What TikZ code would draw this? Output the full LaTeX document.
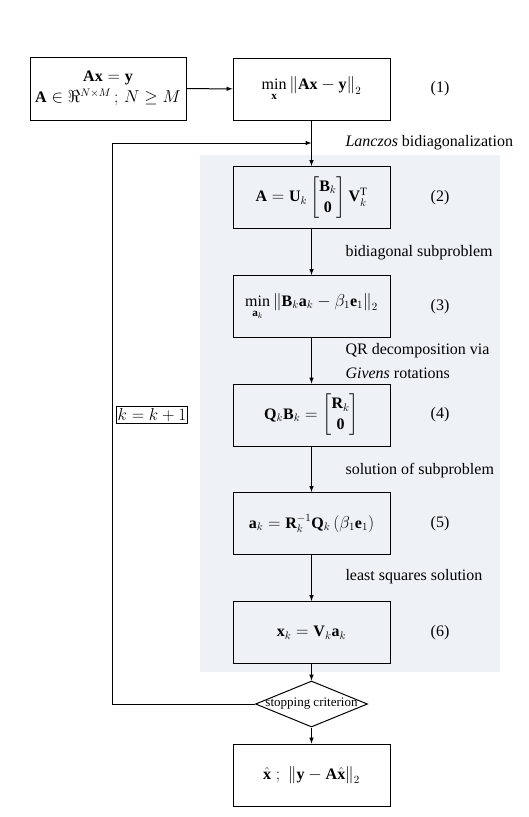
\documentclass[tikz,border=0pt]{standalone}
\usepackage{amsmath}
\usepackage{fontspec}
\setmainfont{Liberation Serif}
\setmathrm{Liberation Serif}
\usetikzlibrary{arrows, shapes.geometric}
\definecolor{panelgray}{RGB}{238,242,246}

\begin{document}
\begin{tikzpicture}[x=1pt, y=-1pt,
every node/.style = {align=center, color=black},
stepbox/.style = {draw, line width=1pt, minimum width=157pt, minimum height=62pt, inner sep=2pt, font=\fontsize{16}{21}\selectfont},
decision/.style = {draw, line width=1pt, diamond, aspect=2.4, minimum width=112pt, minimum height=46pt, inner sep=0pt, font=\fontsize{13}{15}\selectfont},
note/.style = {anchor=west, align=left, font=\fontsize{16}{24}\selectfont},
eqnum/.style = {font=\fontsize{16}{18}\selectfont},
flow/.style = {draw, line width=1pt, -latex}]
%
\useasboundingbox (0,0) rectangle (529,817);
\fill[panelgray] (200,155) rectangle (500,672);
%
\node[stepbox, minimum width=156pt, minimum height=63pt] (given) at (108,88.5)
	{$\mathbf{Ax}=\mathbf{y}$\\ $\mathbf{A}\in\Re^{N\times M}\,;\,N\ge M$};
\node[stepbox] (ls) at (311.5,89) {$\min\limits_{\mathbf{x}}\left\|\mathbf{Ax}-\mathbf{y}\right\|_2$};
\node[stepbox] (bidiag) at (311.5,197.5)
	{$\mathbf{A}=\mathbf{U}_k\begin{bmatrix}\mathbf{B}_k\\ \mathbf{0}\end{bmatrix}\mathbf{V}_k^{\mathrm{T}}$};
\node[stepbox] (subprob) at (311.5,306.5)
	{$\min\limits_{\mathbf{a}_k}\left\|\mathbf{B}_k\mathbf{a}_k-\beta_1\mathbf{e}_1\right\|_2$};
\node[stepbox] (qrdec) at (311.5,415)
	{$\mathbf{Q}_k\mathbf{B}_k=\begin{bmatrix}\mathbf{R}_k\\ \mathbf{0}\end{bmatrix}$};
\node[stepbox] (solve) at (311.5,523.5)
	{$\mathbf{a}_k=\mathbf{R}_k^{-1}\mathbf{Q}_k\left(\beta_1\mathbf{e}_1\right)$};
\node[stepbox] (update) at (311.5,632.5) {$\mathbf{x}_k=\mathbf{V}_k\mathbf{a}_k$};
\node[decision] (stop) at (311.5,704) {\makebox[0pt]{stopping criterion}};
\node[stepbox] (result) at (311.5,775)
	{$\hat{\mathbf{x}}\;;\;\left\|\mathbf{y}-\mathbf{A}\hat{\mathbf{x}}\right\|_2$};
\node[draw, line width=1pt, inner sep=1.5pt, font=\fontsize{16}{19}\selectfont] (incr) at (152,415) {$k=k+1$};
%
% equation numbers
\node[eqnum] (num1) at (440,89) {(1)};
\node[eqnum] (num2) at (440,197.5) {(2)};
\node[eqnum] (num3) at (440,306.5) {(3)};
\node[eqnum] (num4) at (440,415) {(4)};
\node[eqnum] (num5) at (440,523.5) {(5)};
\node[eqnum] (num6) at (440,632.5) {(6)};
%
% step descriptions
\node[note] (lanczos) at (342,143) {\textit{Lanczos} bidiagonalization};
\node[note] (bidnote) at (342,253) {bidiagonal subproblem};
\node[note] (qrnote) at (342,361.5) {QR decomposition via\\ \textit{Givens} rotations};
\node[note] (solnote) at (342,471) {solution of subproblem};
\node[note] (lsqnote) at (342,577) {least squares solution};
%
\coordinate (join) at (311.5,143);
\coordinate (back) at (112,143);
%
\draw[flow] (given) -- (ls);
\draw[flow] (ls) -- (bidiag);
\draw[flow] (bidiag) -- (subprob);
\draw[flow] (subprob) -- (qrdec);
\draw[flow] (qrdec) -- (solve);
\draw[flow] (solve) -- (update);
\draw[flow] (update) -- (stop);
\draw[flow] (stop) -- (result);
\draw[flow] (stop.west) -| (back) -- (join);
\end{tikzpicture}
\end{document}
